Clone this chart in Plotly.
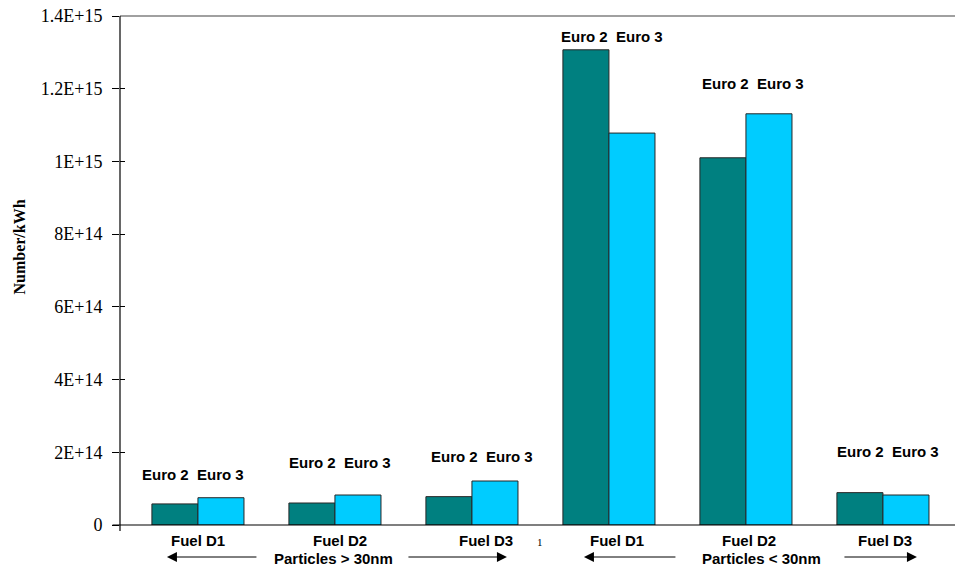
import plotly.graph_objects as go

# Particle number emissions per fuel, Euro 2 vs Euro 3 engines
groups = ["D1 >30nm", "D2 >30nm", "D3 >30nm", "D1 <30nm", "D2 <30nm", "D3 <30nm"]
fuel_labels = ["Fuel D1", "Fuel D2", "Fuel D3", "Fuel D1", "Fuel D2", "Fuel D3"]
euro2 = [5.8e13, 6.05e13, 7.8e13, 1.307e15, 1.01e15, 8.9e13]
euro3 = [7.5e13, 8.25e13, 1.21e14, 1.078e15, 1.131e15, 8.25e13]
y_ticks = [0, 2e14, 4e14, 6e14, 8e14, 1e15, 1.2e15, 1.4e15]
y_tick_text = ["0", "2E+14", "4E+14", "6E+14", "8E+14", "1E+15", "1.2E+15", "1.4E+15"]
size_classes = ["Particles > 30nm", "Particles < 30nm"]

# label placement tweaks (pixels)
pair_dx = [-5, 5, 10, 3, 7, 5]
pair_lift = [23, 33, 25, 13, 30, 41]
fuel_dx = [0, 5, 14, 8, 3, 2]

TEAL = "#008080"
CYAN = "#00CCFF"
EDGE = "#262626"
SANS = "Liberation Sans, Arial, sans-serif"
SERIF = "Liberation Serif, Times New Roman, serif"

fig = go.Figure()
fig.add_trace(go.Bar(x=groups, y=euro2, name="Euro 2", marker_color=TEAL,
                     marker_line_color=EDGE, marker_line_width=1))
fig.add_trace(go.Bar(x=groups, y=euro3, name="Euro 3", marker_color=CYAN,
                     marker_line_color=EDGE, marker_line_width=1))
# invisible trace carrying the crossing (inside) tick marks
fig.add_trace(go.Scatter(x=[groups[0]], y=[0], yaxis="y2", mode="markers",
                         marker_opacity=0, showlegend=False, hoverinfo="skip"))

ann = []
for g, a, b, dx, lift in zip(groups, euro2, euro3, pair_dx, pair_lift):
    ann.append(dict(x=g, y=max(a, b), xref="x", yref="y", text="<b>Euro 2  Euro 3</b>",
                    showarrow=False, xshift=dx, yshift=lift, yanchor="middle",
                    font=dict(family=SANS, size=15, color="black")))
for g, lab, dx in zip(groups, fuel_labels, fuel_dx):
    ann.append(dict(x=g, y=0, xref="x", yref="y", text=f"<b>{lab}</b>", showarrow=False,
                    xshift=dx, yshift=-15, yanchor="middle",
                    font=dict(family=SANS, size=15, color="black")))
for g, lab, dx in zip([groups[1], groups[4]], size_classes, [-1, 16]):
    ann.append(dict(x=g, y=0, xref="x", yref="y", text=f"<b>{lab}</b>", showarrow=False,
                    xshift=dx, yshift=-33, yanchor="middle",
                    font=dict(family=SANS, size=15, color="black")))
# arrows: (group, head offset from group centre, tail offset from head)
for g, hx, tail in [(groups[0], -31, 91), (groups[2], 35, -100),
                    (groups[3], -25, 93), (groups[5], 34, -74)]:
    ann.append(dict(x=g, y=0, xref="x", yref="y", text="", showarrow=True,
                    xshift=hx, yshift=-32, ax=tail, ay=0, arrowhead=2,
                    arrowsize=2, arrowwidth=1, arrowcolor="black"))
ann.append(dict(x=0.503, y=-0.05, xref="paper", yref="paper", text="1", showarrow=False,
                font=dict(family=SERIF, size=11, color="black")))
ann.append(dict(x=-0.133, y=0.546, xref="paper", yref="paper", text="<b>Number/kWh</b>",
                textangle=-90, showarrow=False,
                font=dict(family=SERIF, size=16, color="black")))

fig.update_layout(
    width=955, height=566, autosize=False,
    margin=dict(l=120, r=0, t=16, b=41),
    paper_bgcolor="white", plot_bgcolor="white",
    barmode="group", bargap=0.328, bargroupgap=0,
    showlegend=False,
    xaxis=dict(range=[-0.569, 5.526], showticklabels=False, ticks="",
               showgrid=False, zeroline=False, showline=False),
    yaxis=dict(range=[0, 1.4e15], tickvals=y_ticks, ticktext=y_tick_text,
               ticks="outside", ticklen=7, tickcolor="black", tickwidth=1,
               ticklabelstandoff=6,
               tickfont=dict(family=SERIF, size=18, color="black"),
               showgrid=False, zeroline=False, showline=False),
    yaxis2=dict(range=[0, 1.4e15], overlaying="y", side="left", tickvals=y_ticks,
                ticks="inside", ticklen=5, tickcolor="black", tickwidth=1,
                showticklabels=False, showgrid=False, zeroline=False, showline=False),
    annotations=ann,
    shapes=[
        dict(type="line", xref="paper", yref="paper", x0=0, x1=1, y0=1, y1=1,
             line=dict(color="#808080", width=1.5)),
        dict(type="line", xref="paper", yref="paper", x0=0, x1=0, y0=-0.012, y1=1,
             line=dict(color="black", width=1.2)),
        dict(type="line", xref="paper", yref="paper", x0=-0.009, x1=1, y0=0, y1=0,
             line=dict(color="black", width=1.2)),
    ],
)

fig.write_html("out.html")
